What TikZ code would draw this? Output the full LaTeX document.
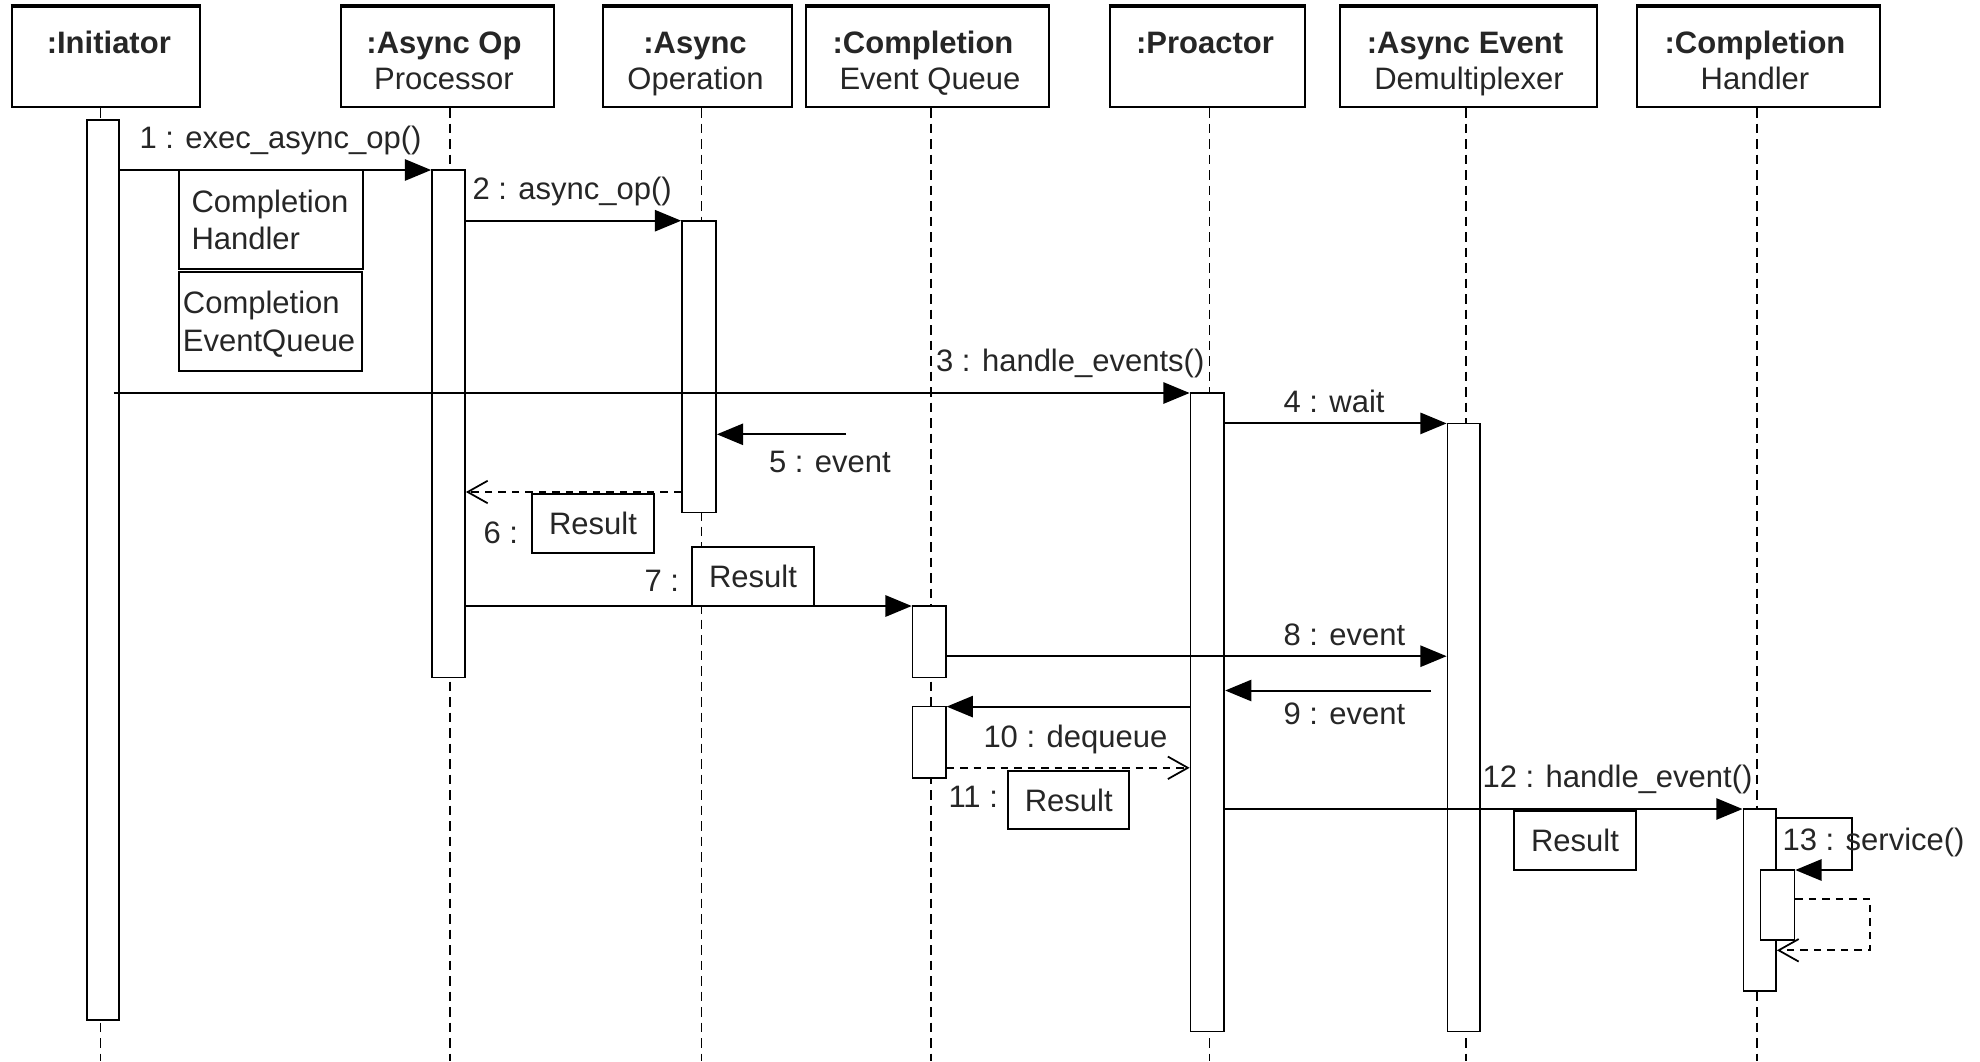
\documentclass[tikz,border=0pt]{standalone}
\usepackage{fontspec}
\setmainfont{Liberation Sans}
\usetikzlibrary{arrows.meta,fit}
\begin{document}
\begin{tikzpicture}[x=0.4pt,y=-0.4pt,
  every node/.style={inner sep=0pt, font=\fontsize{12.4}{15}\selectfont, text=black!85},
  head/.style={draw, line width=0.8pt, fill=white},
  headtop/.style={line width=1.6pt},
  hb/.style={anchor=base, font=\fontsize{12.4}{15}\selectfont\bfseries},
  hn/.style={anchor=base},
  bar/.style={draw, line width=0.7pt, fill=white},
  life/.style={line width=0.75pt, dash pattern=on 3.8pt off 2.4pt},
  msg/.style={line width=0.8pt, -{Triangle[length=10.5pt,width=8.5pt]}},
  ret/.style={line width=0.7pt, dash pattern=on 3pt off 2.4pt,
    -{Straight Barb[length=8pt,width=9pt,line width=0.7pt]}},
  lbl/.style={anchor=base west},
  res/.style={draw, line width=0.8pt, fill=white, minimum width=48.5pt, minimum height=23.5pt},
  note/.style={draw, line width=0.8pt, fill=white},
]
\useasboundingbox (0,0) rectangle (1980,1061);

% ---------- lifeline heads ----------
\node[head, fit={(11.5,7) (199.6,107)}] (ini) {};
\node[head, fit={(341,7) (553.6,107)}] (aop) {};
\node[head, fit={(603,7) (791.5,107)}] (aso) {};
\node[head, fit={(806,7) (1049,107)}] (ceq) {};
\node[head, fit={(1109.5,7) (1305,107)}] (pro) {};
\node[head, fit={(1340,7) (1596.7,107)}] (aed) {};
\node[head, fit={(1637,7) (1880,107)}] (cgh) {};
\foreach \h in {ini,aop,aso,ceq,pro,aed,cgh}
  \draw[headtop] (\h.north west) -- (\h.north east);

\node[hb] (ini-t1) at (108.8,53) {:Initiator};
\node[hb] (aop-t1) at (444,53) {:Async Op};
\node[hn] (aop-t2) at (444,89) {Processor};
\node[hb] (aso-t1) at (695,53) {:Async};
\node[hn] (aso-t2) at (695.5,89) {Operation};
\node[hb] (ceq-t1) at (923,53) {:Completion};
\node[hn] (ceq-t2) at (930,89) {Event Queue};
\node[hb] (pro-t1) at (1205,53) {:Proactor};
\node[hb] (aed-t1) at (1465,53) {:Async Event};
\node[hn] (aed-t2) at (1469,89) {Demultiplexer};
\node[hb] (cgh-t1) at (1755,53) {:Completion};
\node[hn] (cgh-t2) at (1755,89) {Handler};

% ---------- lifelines ----------
\coordinate (ini-end) at (100.5,1061);
\coordinate (aop-end) at (450,1061);
\coordinate (aso-end) at (701.5,1061);
\coordinate (ceq-end) at (931,1061);
\coordinate (pro-end) at (1209.5,1061);
\coordinate (aed-end) at (1466,1061);
\coordinate (cgh-end) at (1757,1061);
\foreach \h in {ini,aop,aso,ceq,pro,aed,cgh}
  \draw[life] (\h.south -| \h-end) -- (\h-end);

% ---------- activation bars ----------
\node[bar, fit={(87,120) (119,1020)}] (ini-b) {};
\node[bar, fit={(432,170) (465,677.5)}] (aop-b) {};
\node[bar, fit={(682,221) (716,512.5)}] (aso-b) {};
\node[bar, fit={(912.6,606) (945.8,677.5)}] (ceq-b1) {};
\node[bar, fit={(912.6,706.6) (945.8,778.3)}] (ceq-b2) {};
\node[bar, fit={(1190.5,393) (1224.3,1031.5)}] (pro-b) {};
\node[bar, fit={(1447.5,423.4) (1480,1031.5)}] (aed-b) {};
\node[bar, fit={(1743.4,809) (1776,991)}] (cgh-b) {};
\node[bar, fit={(1760.6,870) (1794.4,940.3)}] (cgh-b2) {};

% ---------- messages ----------
\draw[msg] (ini-b.east |- 0,170) -- (aop-b.west |- 0,170);
\draw[msg] (aop-b.east |- 0,220.7) -- (aso-b.west |- 0,220.7);
\coordinate (m3s) at (113.5,393);
\draw[msg] (m3s) -- (pro-b.west |- m3s);
\draw[msg] (pro-b.east |- 0,423.4) -- (aed-b.west |- 0,423.4);
\coordinate (m5s) at (846,434.3);
\draw[msg] (m5s) -- (aso-b.east |- m5s);
\draw[ret] (aso-b.west |- 0,492) -- (aop-b.east |- 0,492);
\draw[msg] (aop-b.east |- 0,606) -- (ceq-b1.west |- 0,606);
\draw[msg] (ceq-b1.east |- 0,656.2) -- (aed-b.west |- 0,656.2);
\coordinate (m9s) at (1431,690.5);
\draw[msg] (m9s) -- (pro-b.east |- m9s);
\draw[msg] (pro-b.west |- 0,706.6) -- (ceq-b2.east |- 0,706.6);
\draw[ret] (ceq-b2.east |- 0,767.8) -- (pro-b.west |- 0,767.8);
\draw[msg] (pro-b.east |- 0,809) -- (cgh-b.west |- 0,809);
\draw[msg] (cgh-b.east |- 0,817.8) -- (1851.8,817.8) -- (1851.8,870) -- (cgh-b2.east |- 0,870);
\draw[ret] (cgh-b2.east |- 0,899) -- (1870.3,899) -- (1870.3,950.3) -- (cgh-b.east |- 0,950.3);

% ---------- parameter boxes ----------
\node[note, fit={(179,170) (363,269)}] (arg-ch) {};
\node[lbl] (arg-ch-t1) at (191,212) {Completion};
\node[lbl] (arg-ch-t2) at (191,249) {Handler};
\node[note, fit={(179,271.7) (361.6,370.7)}] (arg-cq) {};
\node[lbl] (arg-cq-t1) at (182.4,313) {Completion};
\node[lbl] (arg-cq-t2) at (182.4,351.7) {EventQueue};

\node[res] (r6) at (593,523.5) {Result};
\node[res] (r7) at (753,576.5) {Result};
\node[res] (r11) at (1068.7,800) {Result};
\node[res] (r12) at (1575,840.6) {Result};

% ---------- message labels ----------
\node[lbl] (l1) at (139,148) {1 : exec\_async\_op()};
\node[lbl] (l2) at (472,199) {2 : async\_op()};
\node[lbl] (l3) at (935.6,371) {3 : handle\_events()};
\node[lbl] (l4) at (1283,412.6) {4 : wait};
\node[lbl] (l5) at (768.5,472) {5 : event};
\node[lbl] (l6) at (483,543) {6 :};
\node[lbl] (l7) at (644,591.5) {7 :};
\node[lbl] (l8) at (1283,645) {8 : event};
\node[lbl] (l9) at (1283,724.4) {9 : event};
\node[lbl] (l10) at (983,747) {10 : dequeue};
\node[lbl] (l11) at (948,807.8) {11 :};
\node[lbl] (l12) at (1482,787) {12 : handle\_event()};
\node[lbl] (l13) at (1782,850) {13 : service()};
\end{tikzpicture}
\end{document}
